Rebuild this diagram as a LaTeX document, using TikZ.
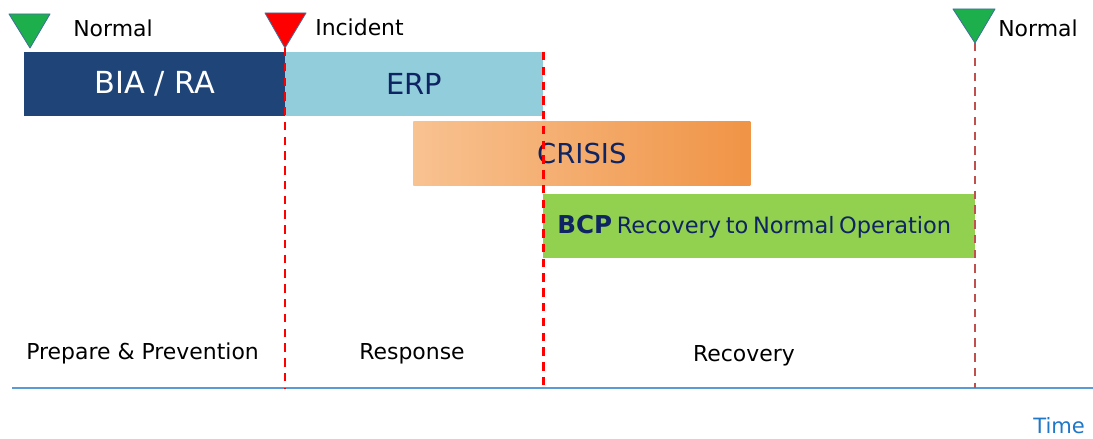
\documentclass[tikz,border=0pt]{standalone}
\usepackage{fontspec}
\setmainfont{DejaVu Sans}
\usetikzlibrary{positioning}

\definecolor{biablue}{HTML}{1F4478}
\definecolor{erpblue}{HTML}{92CDDC}
\definecolor{crisislight}{HTML}{F8C291}
\definecolor{crisisdark}{HTML}{F09446}
\definecolor{bcpgreen}{HTML}{92D050}
\definecolor{navytext}{HTML}{0E2463}
\definecolor{markgreen}{HTML}{1DAF4B}
\definecolor{markedge}{HTML}{41719C}
\definecolor{lastred}{HTML}{C0504D}
\definecolor{axisblue}{HTML}{5B9BD5}
\definecolor{timeblue}{HTML}{1F77C8}

\begin{document}
\begin{tikzpicture}[x=0.025cm,y=-0.025cm]
    \tikzset{
        phase/.style={draw=none, inner sep=0, anchor=north west, minimum height=1.6cm},
        tag/.style={inner sep=0, anchor=base west, font=\fontsize{15.6}{18}\selectfont},
        period/.style={inner sep=0, anchor=base, font=\fontsize{15.6}{18}\selectfont},
        cut/.style={draw=red, line width=1.8pt, dash pattern=on 6pt off 4.5pt},
        flag/.style={draw=markedge, line width=0.6pt, line join=round},
    };
    \useasboundingbox (0,0) rectangle (1093,439);

    % phases
    \node [phase, fill=biablue, minimum width=6.525cm, text=white,
           font=\fontsize{21.6}{24}\selectfont] (bia) at (24,52) {BIA / RA};
    \node [phase, fill=erpblue, minimum width=6.45cm, text=navytext,
           font=\fontsize{20.6}{24}\selectfont] (erp) at (285,52) {ERP};
    \node [phase, left color=crisislight, right color=crisisdark, minimum width=8.425cm,
           text=navytext, font=\fontsize{19.5}{24}\selectfont] (crisis) at (413,121) {CRISIS};
    \node [phase, fill=bcpgreen, text width=10.1cm, inner xsep=0.35cm, align=left,
           text=navytext] (bcp) at (543,194)
          {{\fontsize{17.5}{20}\selectfont\bfseries BCP} {\fontsize{16}{20}\selectfont Recovery to Normal Operation}};

    % milestones
    \coordinate (start) at (30,48);
    \coordinate (incident) at (285,48);
    \coordinate (back) at (975,43);
    \coordinate (axisL) at (12,388);
    \coordinate (axisR) at (1093,388);

    \draw [axisblue, line width=1.4pt] (axisL) -- (axisR);
    \draw [cut] (incident) -- (incident |- axisL);
    \draw [cut] (erp.north east) -- (erp.north east |- axisL);
    \draw [cut, draw=lastred] (back) -- (back |- axisL);

    \draw [flag, fill=markgreen] (9,14) -- (50,14) -- (start) -- cycle;
    \draw [flag, fill=red] (265,13) -- (306,13) -- (incident) -- cycle;
    \draw [flag, fill=markgreen] (953,9) -- (995,9) -- (back) -- cycle;

    % labels
    \node [tag] (normalL) at (73,37) {Normal};
    \node [tag] (incidentL) at (315,36) {Incident};
    \node [tag] (normalR) at (998,37) {Normal};

    \node [tag] (prepare) at (26,359) {Prepare \& Prevention};
    \node [period] (response) at (412,359) {Response};
    \node [period] (recovery) at (744,361) {Recovery};

    \node [tag, text=timeblue, font=\fontsize{15}{18}\selectfont] (time) at (1033,433) {Time};
\end{tikzpicture}
\end{document}
